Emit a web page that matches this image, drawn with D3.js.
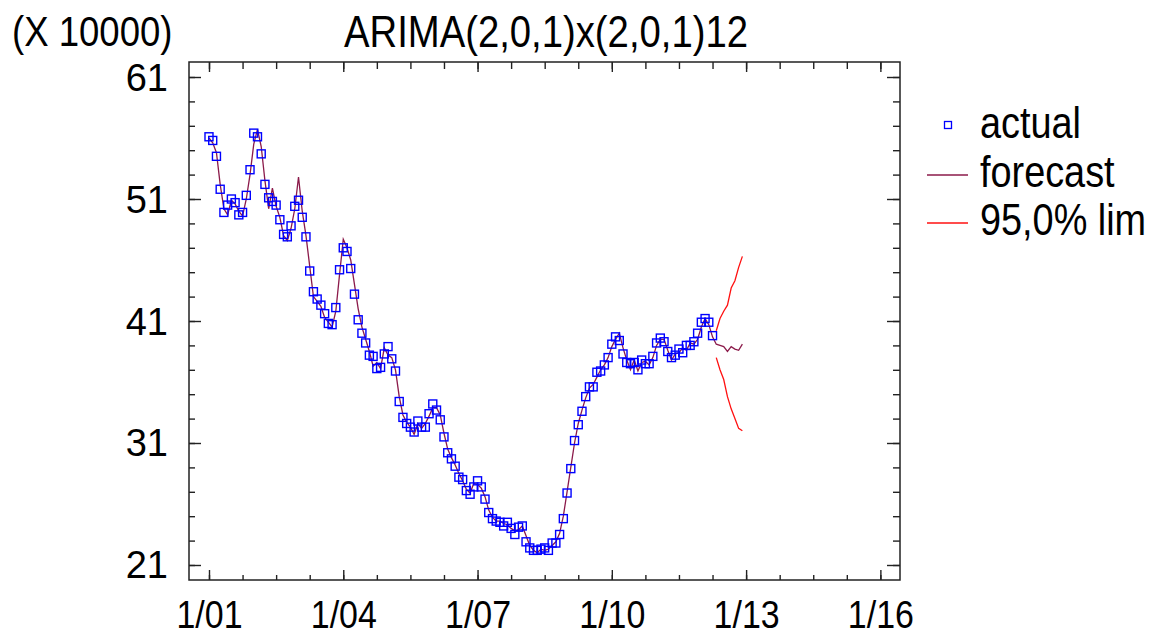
<!DOCTYPE html>
<html>
<head>
<meta charset="utf-8">
<script src="https://cdn.jsdelivr.net/npm/d3@7"></script>
<style>
	body { margin: 0; background: #fff; }
	svg { display: block; font-family: "Liberation Sans", Arial, sans-serif; }
	.axis line { stroke: #222; stroke-width: 1.4; }
	.axis text { fill: #000; }
</style>
</head>
<body>
<script>
const title = "ARIMA(2,0,1)x(2,0,1)12";
const unitLabel = "(X 10000)";
const seriesNames = ["actual", "forecast", "95,0% lim"];

// monthly values in units of 10000, month 0 = Jan 2001
const actual = [
	56.1, 55.8, 54.5, 51.8, 49.9, 50.5, 51.0, 50.7, 49.7, 49.9,
	51.3, 53.4, 56.4, 56.1, 54.7, 52.2, 51.1, 50.8, 50.5, 49.3,
	48.1, 47.9, 48.8, 50.4, 50.9, 49.5, 47.9, 45.1, 43.4, 42.8,
	42.3, 41.6, 40.8, 40.7, 42.1, 45.2, 47.0, 46.7, 45.3, 43.2,
	41.1, 40.0, 39.2, 38.2, 38.1, 37.1, 37.2, 38.3, 38.9, 37.9,
	36.9, 34.4, 33.1, 32.6, 32.3, 31.9, 32.8, 32.3, 32.3, 33.4,
	34.2, 33.7, 32.9, 31.5, 30.2, 29.7, 29.1, 28.2, 28.0, 27.1,
	26.8, 27.4, 27.9, 27.4, 26.4, 25.3, 24.8, 24.6, 24.5, 24.2,
	24.5, 24.0, 23.5, 24.1, 24.2, 22.9, 22.4, 22.2, 22.2, 22.3,
	22.4, 22.2, 22.8, 22.8, 23.5, 24.8, 26.9, 28.9, 31.2, 32.5,
	33.6, 34.8, 35.6, 35.6, 36.8, 36.9, 37.4, 38.0, 39.1, 39.7,
	39.4, 38.3, 37.6, 37.5, 37.6, 37.0, 37.8, 37.5, 37.5, 38.1,
	39.2, 39.6, 39.3, 38.5, 38.0, 38.2, 38.7, 38.4, 39.0, 39.0,
	39.3, 40.0, 40.9, 41.2, 40.9, 39.8
];

// one-step-ahead fitted values, same months as actual
const fitted = [
	56.0, 55.6, 54.8, 52.2, 50.2, 49.7, 50.9, 50.6, 50.0, 49.6,
	51.0, 53.0, 55.5, 56.7, 55.3, 52.5, 50.2, 51.9, 50.4, 49.5,
	48.0, 47.6, 48.6, 50.2, 52.8, 50.0, 48.0, 45.5, 43.0, 42.6,
	42.2, 41.3, 40.9, 40.5, 41.8, 44.8, 47.7, 47.0, 46.0, 44.0,
	42.0, 40.5, 39.5, 38.5, 37.3, 37.6, 37.1, 38.8, 38.2, 38.0,
	37.0, 34.8, 33.3, 32.7, 32.3, 31.7, 32.6, 32.2, 32.6, 33.2,
	33.9, 33.9, 33.3, 31.8, 30.5, 29.8, 29.2, 28.5, 27.9, 27.2,
	26.9, 27.7, 27.6, 27.3, 26.6, 25.5, 24.9, 24.6, 24.6, 24.4,
	24.3, 24.0, 23.8, 23.9, 24.2, 23.4, 22.6, 22.2, 22.0, 22.3,
	22.2, 22.3, 22.6, 22.9, 23.6, 25.0, 27.0, 29.0, 31.0, 32.6,
	33.7, 34.7, 35.5, 35.8, 36.4, 37.0, 37.4, 38.0, 38.9, 39.5,
	40.0, 38.8, 37.8, 37.0, 37.8, 36.9, 37.6, 37.7, 37.4, 38.0,
	39.0, 39.5, 39.5, 38.6, 37.8, 38.3, 38.4, 38.8, 38.6, 39.2,
	39.1, 39.5, 40.5, 41.2, 40.7, 39.7
];

// forecasts from month 136 (May 2012)
const forecastStart = 136;
const forecast = [39.1, 39.0, 38.9, 38.5, 38.9, 38.7, 38.6, 39.1];
const upperLimit = [40.2, 41.2, 41.8, 42.3, 43.7, 44.3, 45.4, 46.3];
const lowerLimit = [38.0, 37.0, 36.2, 34.8, 33.8, 33.0, 32.2, 32.0];

const yTicks = [21, 31, 41, 51, 61];
const xTicks = [0, 36, 72, 108, 144, 180];
const xTickLabels = ["1/01", "1/04", "1/07", "1/10", "1/13", "1/16"];

const width = 1153, height = 637;
const frame = { left: 189, top: 62, right: 900, bottom: 580 };
const squeeze = "scale(0.87, 1)";

const x = d3.scaleLinear().domain([-5.36, 185.26]).range([frame.left, frame.right]);
const y = d3.scaleLinear().domain([19.77, 62.23]).range([frame.bottom, frame.top]);

const svg = d3.select("body").append("svg")
	.attr("width", width)
	.attr("height", height);

function drawAxis(axisFn, scale, values, size, transform) {
	let g = svg.append("g")
		.attr("class", "axis")
		.attr("transform", transform)
		.call(axisFn(scale).tickValues(values).tickSize(size).tickSizeOuter(0).tickFormat(""));
	g.select(".domain").remove();
	return g;
}

const xMinor = d3.range(0, 181, 9);
const yMinor = d3.range(21, 62, 2);

drawAxis(d3.axisBottom, x, xMinor, -5, `translate(0, ${frame.bottom})`);
drawAxis(d3.axisTop, x, xMinor, -7, `translate(0, ${frame.top})`);
drawAxis(d3.axisLeft, y, yMinor, -6, `translate(${frame.left}, 0)`);
drawAxis(d3.axisRight, y, yMinor, -7, `translate(${frame.right}, 0)`);
drawAxis(d3.axisTop, x, xTicks, -10, `translate(0, ${frame.top})`);
drawAxis(d3.axisRight, y, yTicks, -13, `translate(${frame.right}, 0)`);

let bottomAxis = drawAxis(d3.axisBottom, x, xTicks, -10, `translate(0, ${frame.bottom})`);
bottomAxis.selectAll("text")
	.text((d, i) => xTickLabels[i])
	.attr("y", 48)
	.attr("dy", null)
	.attr("font-size", 39)
	.attr("transform", squeeze);

let leftAxis = drawAxis(d3.axisLeft, y, yTicks, -12, `translate(${frame.left}, 0)`);
leftAxis.selectAll("text")
	.text(d => d)
	.attr("x", -21)
	.attr("y", 13)
	.attr("dy", null)
	.attr("font-size", 38);

svg.append("rect")
	.attr("x", frame.left)
	.attr("y", frame.top)
	.attr("width", frame.right - frame.left)
	.attr("height", frame.bottom - frame.top)
	.attr("fill", "none")
	.attr("stroke", "#222")
	.attr("stroke-width", 1.5);

// fitted + forecast line
let line = d3.line()
	.x((d, i) => x(i))
	.y(d => y(d));
svg.append("path")
	.attr("d", line(fitted.concat(forecast)))
	.attr("fill", "none")
	.attr("stroke", "#8b1a4a")
	.attr("stroke-width", 1.3);

let limitLine = d3.line()
	.x((d, i) => x(forecastStart + i))
	.y(d => y(d));
for (let limit of [upperLimit, lowerLimit]) {
	svg.append("path")
		.attr("d", limitLine(limit))
		.attr("fill", "none")
		.attr("stroke", "#ff1010")
		.attr("stroke-width", 1.3);
}

const markerSize = 8;
svg.append("g")
	.selectAll("rect")
	.data(actual)
	.enter()
	.append("rect")
		.attr("x", (d, i) => x(i) - markerSize / 2)
		.attr("y", d => y(d) - markerSize / 2)
		.attr("width", markerSize)
		.attr("height", markerSize)
		.attr("fill", "none")
		.attr("stroke", "#0000ff")
		.attr("stroke-width", 1.4);

svg.append("text")
	.attr("transform", `translate(546, 47) ${squeeze}`)
	.attr("text-anchor", "middle")
	.attr("font-size", 44)
	.text(title);

svg.append("text")
	.attr("transform", `translate(12, 46) ${squeeze}`)
	.attr("font-size", 42)
	.text(unitLabel);

// legend
let legend = svg.append("g")
	.attr("class", "legend");
legend.append("rect")
	.attr("x", 944.5)
	.attr("y", 121.5)
	.attr("width", 7)
	.attr("height", 7)
	.attr("fill", "none")
	.attr("stroke", "#0000ff")
	.attr("stroke-width", 1.3);
legend.append("line")
	.attr("x1", 927).attr("x2", 968)
	.attr("y1", 175).attr("y2", 175)
	.attr("stroke", "#8b1a4a")
	.attr("stroke-width", 1.3);
legend.append("line")
	.attr("x1", 927).attr("x2", 968)
	.attr("y1", 223).attr("y2", 223)
	.attr("stroke", "#ff1010")
	.attr("stroke-width", 1.3);
legend.selectAll("text")
	.data(seriesNames)
	.enter()
	.append("text")
		.attr("transform", (d, i) => `translate(980, ${138 + i * 48.5}) ${squeeze}`)
		.attr("font-size", 43.5)
		.text(d => d);
</script>
</body>
</html>
